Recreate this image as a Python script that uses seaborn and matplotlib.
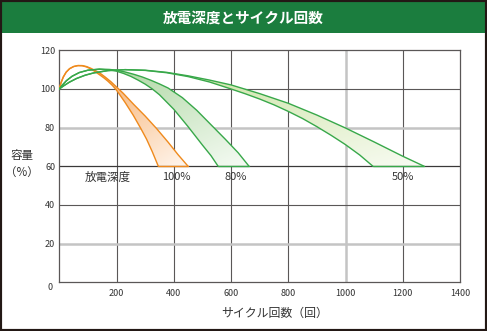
import numpy as np
import pandas as pd
import matplotlib
matplotlib.use("Agg")
import matplotlib.pyplot as plt
import seaborn as sns
from matplotlib.colors import LinearSegmentedColormap
from matplotlib.patches import Polygon, Rectangle
from matplotlib.transforms import offset_copy

# Capacity (%) against cycle count for each depth of discharge.
# Each band is bounded by a short-life (inner) and long-life (outer) curve.
dod100_outer_x = [0, 6, 14, 24, 36, 50, 65, 80, 95, 110, 125, 142, 160, 180, 200, 223, 260, 300, 340, 380, 415, 450]
dod100_outer_y = [100, 103.2, 106.2, 108.7, 110.5, 111.6, 112.1, 112.1, 111.6, 110.7, 109.6, 108.2, 106.2, 103.8, 101.0, 97.8, 92.0, 86.0, 79.5, 72.5, 66.0, 60]
dod100_inner_x = [0, 6, 14, 24, 36, 50, 65, 80, 95, 110, 125, 142, 156, 170, 185, 200, 230, 258, 285, 305, 325, 346]
dod100_inner_y = [100, 103.2, 106.2, 108.7, 110.5, 111.6, 112.1, 112.0, 111.4, 110.4, 109.0, 107.2, 105.7, 104.0, 101.9, 99.4, 93.0, 86.5, 79.5, 74.0, 67.5, 60]

dod80_outer_x = [0, 10, 25, 45, 70, 100, 140, 175, 200, 230, 260, 290, 320, 350, 380, 430, 480, 530, 580, 625, 663]
dod80_outer_y = [100, 101.9, 104.3, 106.6, 108.5, 109.7, 110.3, 110.1, 109.7, 108.8, 107.6, 106.2, 104.5, 102.6, 100.5, 95.5, 89.0, 81.5, 74.0, 67.0, 60]
dod80_inner_x = [0, 10, 25, 45, 70, 100, 140, 175, 200, 225, 250, 275, 300, 325, 350, 400, 450, 500, 530, 555]
dod80_inner_y = [100, 101.9, 104.3, 106.6, 108.5, 109.7, 110.2, 109.8, 109.2, 108.0, 106.5, 104.6, 102.5, 100.0, 97.0, 89.5, 80.5, 71.0, 65.5, 60]

dod50_outer_x = [0, 15, 35, 60, 90, 120, 170, 230, 300, 375, 450, 525, 600, 700, 800, 900, 1000, 1100, 1200, 1275]
dod50_outer_y = [100, 101.6, 103.5, 105.4, 107.1, 108.3, 109.5, 110.0, 109.7, 108.6, 106.8, 104.6, 102.1, 97.6, 92.6, 86.5, 79.8, 72.6, 65.2, 60]
dod50_inner_x = [0, 15, 35, 60, 90, 120, 170, 230, 300, 375, 450, 525, 600, 650, 700, 750, 800, 850, 900, 950, 1000, 1050, 1096]
dod50_inner_y = [100, 101.6, 103.5, 105.4, 107.1, 108.3, 109.5, 110.0, 109.6, 108.4, 106.4, 103.6, 100.0, 97.5, 94.8, 91.8, 88.4, 84.7, 80.5, 76.0, 71.2, 65.8, 60]

depth_labels = ["100%", "80%", "50%"]
label_x = [409, 617, 1200]
x_ticks = [200, 400, 600, 800, 1000, 1200, 1400]
y_ticks = [20, 40, 60, 80, 100, 120]

bands = [
    dict(ox=dod100_outer_x, oy=dod100_outer_y, ix=dod100_inner_x, iy=dod100_inner_y,
         line="#ef8a1d", top="#f5a052", bottom="#fff6ee"),
    dict(ox=dod80_outer_x, oy=dod80_outer_y, ix=dod80_inner_x, iy=dod80_inner_y,
         line="#38a84a", top="#a3d296", bottom="#f6fbf4"),
    dict(ox=dod50_outer_x, oy=dod50_outer_y, ix=dod50_inner_x, iy=dod50_inner_y,
         line="#38a84a", top="#c3df95", bottom="#f8fbf2"),
]

sns.set_theme(style="white")
plt.rcParams["font.family"] = ["Noto Sans CJK JP", "DejaVu Sans"]

W, H = 487, 331
fig = plt.figure(figsize=(W / 100, H / 100), dpi=100)
fig.patch.set_facecolor("white")

# frame and title bar
fig.add_artist(Rectangle((0, 0), 1, 1, transform=fig.transFigure, facecolor="none",
                         edgecolor="#231815", linewidth=3.0, zorder=10))
fig.add_artist(Rectangle((2 / W, 1 - 33 / H), 483 / W, 31 / H, transform=fig.transFigure,
                         facecolor="#1b7d3e", edgecolor="none", zorder=9))
fig.text(0.5, 1 - 17.5 / H, "放電深度とサイクル回数", color="white", fontsize=10.5,
         fontweight="bold", ha="center", va="center", zorder=11)

ax = fig.add_axes([59.3 / W, 1 - 282.3 / H, 400.7 / W, 232.0 / H])
ax.set_xlim(0, 1400)
ax.set_ylim(0, 120)

# grid: alternating dark thin and light thick lines
dark, light = "#5a5757", "#c4c4c4"
for xv in [200, 400, 600, 800, 1200]:
    ax.axvline(xv, color=dark, lw=0.8, zorder=1)
ax.axvline(1000, color=light, lw=1.8, zorder=1)
for yv in [40, 100]:
    ax.axhline(yv, color=dark, lw=0.8, zorder=1)
for yv in [20, 80]:
    ax.axhline(yv, color=light, lw=1.8, zorder=1)

# gradient-filled bands
for i, b in enumerate(bands):
    poly_x = list(b["ox"]) + list(b["ix"])[::-1]
    poly_y = list(b["oy"]) + list(b["iy"])[::-1]
    poly = Polygon(np.column_stack([poly_x, poly_y]), closed=True, facecolor="none",
                   edgecolor="none", zorder=2)
    ax.add_patch(poly)
    x0, x1 = 0, max(b["ox"])
    gx = np.linspace(x0, x1, 300)
    gy = np.linspace(60, 113, 200)
    GX, GY = np.meshgrid(gx, gy)
    t = 0.55 * (113 - GY) / 53 + 0.45 * (GX - x0) / (x1 - x0)
    t = np.clip(t, 0, 1)
    cmap = LinearSegmentedColormap.from_list(f"band{i}", [b["top"], b["bottom"]])
    im = ax.imshow(t, extent=[x0, x1, 60, 113], origin="lower", aspect="auto",
                   cmap=cmap, vmin=0, vmax=1, zorder=2, interpolation="bilinear")
    im.set_clip_path(poly)

# band edges
rows = []
for i, b in enumerate(bands):
    for part, xs, ys in [("outer", b["ox"], b["oy"]), ("inner", b["ix"], b["iy"])]:
        for xv, yv in zip(xs, ys):
            rows.append(dict(band=i, part=part, cycles=xv, capacity=yv, key=f"{i}-{part}"))
df = pd.DataFrame(rows)
palette = {f"{i}-{p}": bands[i]["line"] for i in range(3) for p in ["outer", "inner"]}
sns.lineplot(data=df, x="cycles", y="capacity", hue="key", palette=palette, sort=False,
             estimator=None, linewidth=1.0, legend=False, ax=ax, zorder=3)
for b in bands:
    ax.plot([max(b["ix"]), max(b["ox"])], [60, 60], color=b["line"], lw=1.0, zorder=3)

ax.axhline(60, color="#3a3838", lw=0.9, zorder=2.5)

for s in ax.spines.values():
    s.set_color(dark)
    s.set_linewidth(0.9)
ax.set_xticks(x_ticks)
ax.set_yticks(y_ticks)
ax.set_xticklabels([str(v) for v in x_ticks])
ax.set_yticklabels([str(v) for v in y_ticks])
ax.tick_params(axis="both", length=0, labelsize=6.5, colors="#333333")
ax.tick_params(axis="x", pad=5)
ax.tick_params(axis="y", pad=3)
ax.set_xlabel("")
ax.set_ylabel("")
ax.text(0, 0, "0", transform=offset_copy(ax.transData, fig=fig, x=-9.5 * 0.72, y=-5 * 0.72, units="points"),
        ha="center", va="center", fontsize=6.5, color="#333333")

# annotations
ax.text(170, 54.5, "放電深度", ha="center", va="center", fontsize=8.3, color="#333333")
for lab, xv in zip(depth_labels, label_x):
    ax.text(xv, 54.5, lab, ha="center", va="center", fontsize=8, color="#333333")

fig.text(22 / W, 1 - 155 / H, "容量", ha="center", va="center", fontsize=8.3, color="#333333")
fig.text(22 / W, 1 - 172 / H, "（%）", ha="center", va="center", fontsize=8.3, color="#333333")
fig.text(275 / W, 1 - 313 / H, "サイクル回数（回）", ha="center", va="center", fontsize=8.6,
         color="#333333")

fig.savefig("out.png", dpi=100)
